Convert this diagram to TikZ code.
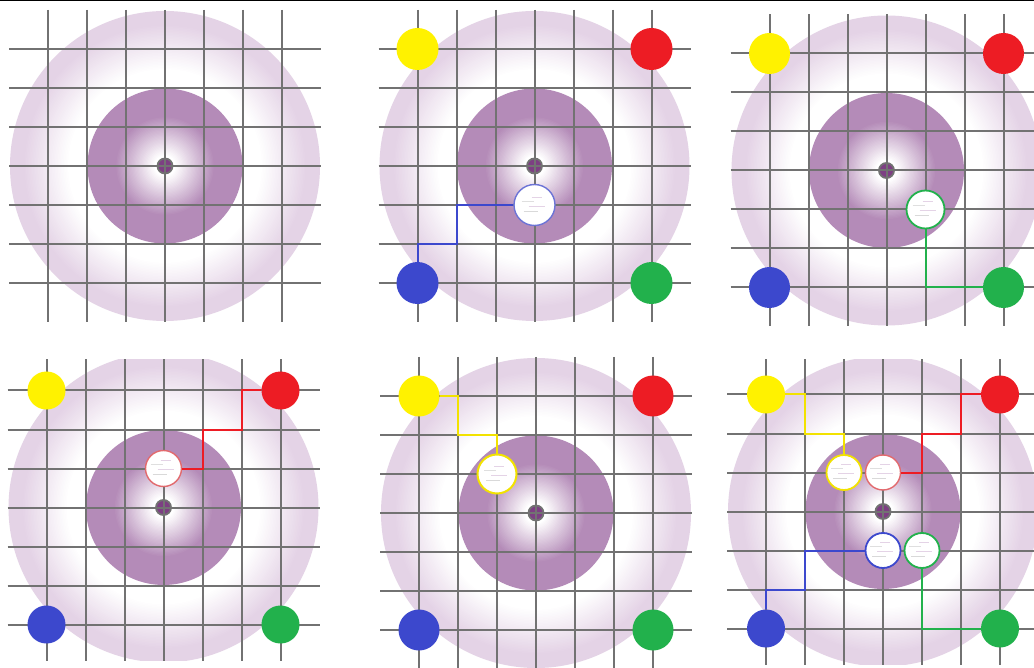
\documentclass[tikz,border=0pt]{standalone}
\usetikzlibrary{calc}
\definecolor{lpurple}{HTML}{E4D3E6}
\definecolor{mpurple}{HTML}{B48BB8}
\definecolor{dpurple}{HTML}{7D3F83}
\definecolor{gridgray}{HTML}{727272}
\definecolor{dotyellow}{HTML}{FFF200}
\definecolor{dotred}{HTML}{ED1C24}
\definecolor{dotblue}{HTML}{3C48CD}
\definecolor{dotgreen}{HTML}{22B14C}
\definecolor{tokred}{HTML}{E26A6E}
\definecolor{tokblue}{HTML}{6C74D6}
\definecolor{tokyellow}{HTML}{F2E200}
\tikzset{
  gridline/.style={draw=gridgray, line width=2pt},
  bigdisc/.style={circle, inner sep=0pt, minimum size=310pt, fill=lpurple},
  middisc/.style={circle, inner sep=0pt, minimum size=155pt, fill=mpurple},
  centermark/.style={circle, inner sep=0pt, minimum size=15pt, fill=dpurple, draw=gridgray, line width=1.8pt},
  cdot/.style={circle, inner sep=0pt, minimum size=#1},
  cdot/.default=41pt,
  tok/.style={circle, inner sep=0pt, minimum size=#1, fill=white, line width=1.8pt,
    path picture={
      \draw[line width=0.6pt, draw=gray!30] ($(path picture bounding box.center)+(-11pt,-6pt)$) -- ++(14pt,0pt);
      \draw[line width=0.6pt, draw=lpurple] ($(path picture bounding box.center)+(-6pt,-1pt)$) -- ++(16pt,0pt);
      \draw[line width=0.6pt, draw=gray!25] ($(path picture bounding box.center)+(-13pt,4pt)$) -- ++(12pt,0pt);
      \draw[line width=0.6pt, draw=lpurple] ($(path picture bounding box.center)+(-3pt,8pt)$) -- ++(10pt,0pt);
    }},
  route/.style={line width=2pt, line join=miter},
}
\newcommand\basepanel[1]{%
  \node[bigdisc] (o#1) at (0,0) {};
  \foreach \i [evaluate=\i as \rr using 142-1.5*\i,
               evaluate=\i as \pp using 100-3.3333*\i] in {0,...,30} {
    \fill[lpurple!\pp!white] (0,0) circle[radius=\rr pt];
  }
  \node[middisc] (i#1) at (0,0) {};
  \foreach \i [evaluate=\i as \rr using 50-1.3*\i,
               evaluate=\i as \pp using 100-3.3333*\i] in {0,...,30} {
    \fill[mpurple!\pp!white] (0,0) circle[radius=\rr pt];
  }
  \node[centermark] (m#1) at (0,0) {};
  \foreach \k in {-3,...,3} {
    \draw[gridline] (\k,-4) -- (\k,4);
    \draw[gridline] (-4,\k) -- (4,\k);
  }%
}
\begin{document}
\begin{tikzpicture}[x=1pt, y=-1pt]
\useasboundingbox (0,0) rectangle (1034,668);
\fill[white] (0,0) rectangle (1034,668);
\draw[black, line width=1.5pt] (0,0.75) -- (1034,0.75);

% Panel 1
\begin{scope}
  \clip (0,3) rectangle (350,335);
  \begin{scope}[shift={(165,166)}, x=39pt, y=-39pt]
    \basepanel{1}
  \end{scope}
\end{scope}

% Panel 2
\begin{scope}
  \clip (350,3) rectangle (710,335);
  \begin{scope}[shift={(534.5,166)}, x=39pt, y=-39pt]
    \basepanel{2}
    \node[cdot=42pt, fill=dotyellow] (Y2) at (-3,-3) {};
    \node[cdot=42pt, fill=dotred] (R2) at (3,-3) {};
    \node[cdot=42pt, fill=dotblue] (B2) at (-3,3) {};
    \node[cdot=42pt, fill=dotgreen] (G2) at (3,3) {};
    \node[tok=41pt, draw=tokblue, line width=1.4pt] (b2) at (0,1) {};
    \draw[route, draw=dotblue] (B2) -- (-3,2) -- (-2,2) -- (-2,1) -- (b2);
  \end{scope}
\end{scope}

% Panel 3
\begin{scope}
  \clip (710,3) rectangle (1034,335);
  \begin{scope}[shift={(886.5,170.5)}, x=39pt, y=-39pt]
    \basepanel{3}
    \node[cdot=41pt, fill=dotyellow] (Y3) at (-3,-3) {};
    \node[cdot=41pt, fill=dotred] (R3) at (3,-3) {};
    \node[cdot=41pt, fill=dotblue] (B3) at (-3,3) {};
    \node[cdot=41pt, fill=dotgreen] (G3) at (3,3) {};
    \node[tok=38pt, draw=dotgreen] (g3) at (1,1) {};
    \draw[route, draw=dotgreen] (g3) -- (1,3) -- (G3);
  \end{scope}
\end{scope}

% Panel 4
\begin{scope}
  \clip (0,360) rectangle (350,660);
  \begin{scope}[shift={(163.5,507.5)}, x=39pt, y=-39pt]
    \basepanel{4}
    \node[cdot=38pt, fill=dotyellow] (Y4) at (-3,-3) {};
    \node[cdot=38pt, fill=dotred] (R4) at (3,-3) {};
    \node[cdot=38pt, fill=dotblue] (B4) at (-3,3) {};
    \node[cdot=38pt, fill=dotgreen] (G4) at (3,3) {};
    \node[tok=36pt, draw=tokred, line width=1.4pt] (r4) at (0,-1) {};
    \draw[route, draw=dotred] (r4) -- (1,-1) -- (1,-2) -- (2,-2) -- (2,-3) -- (R4);
  \end{scope}
\end{scope}

% Panel 5
\begin{scope}
  \clip (350,357) rectangle (710,668);
  \begin{scope}[shift={(536,513)}, x=39pt, y=-39pt]
    \basepanel{5}
    \node[cdot=41pt, fill=dotyellow] (Y5) at (-3,-3) {};
    \node[cdot=41pt, fill=dotred] (R5) at (3,-3) {};
    \node[cdot=41pt, fill=dotblue] (B5) at (-3,3) {};
    \node[cdot=41pt, fill=dotgreen] (G5) at (3,3) {};
    \node[tok=39pt, draw=tokyellow, line width=2pt] (y5) at (-1,-1) {};
    \draw[route, draw=tokyellow] (Y5) -- (-2,-3) -- (-2,-2) -- (-1,-2) -- (y5);
  \end{scope}
\end{scope}

% Panel 6
\begin{scope}
  \clip (710,360) rectangle (1034,664);
  \begin{scope}[shift={(883,511.5)}, x=39pt, y=-39pt]
    \basepanel{6}
    \node[cdot=38pt, fill=dotyellow] (Y6) at (-3,-3) {};
    \node[cdot=38pt, fill=dotred] (R6) at (3,-3) {};
    \node[cdot=38pt, fill=dotblue] (B6) at (-3,3) {};
    \node[cdot=38pt, fill=dotgreen] (G6) at (3,3) {};
    \node[tok=35pt, draw=tokyellow] (y6) at (-1,-1) {};
    \node[tok=35pt, draw=tokred, line width=1.4pt] (r6) at (0,-1) {};
    \node[tok=35pt, draw=dotblue] (b6) at (0,1) {};
    \node[tok=35pt, draw=dotgreen] (g6) at (1,1) {};
    \draw[route, draw=tokyellow] (Y6) -- (-2,-3) -- (-2,-2) -- (-1,-2) -- (y6);
    \draw[route, draw=dotred] (R6) -- (2,-3) -- (2,-2) -- (1,-2) -- (1,-1) -- (r6);
    \draw[route, draw=dotblue] (B6) -- (-3,2) -- (-2,2) -- (-2,1) -- (b6);
    \draw[route, draw=dotgreen] (g6) -- (1,3) -- (G6);
  \end{scope}
\end{scope}
\end{tikzpicture}
\end{document}
